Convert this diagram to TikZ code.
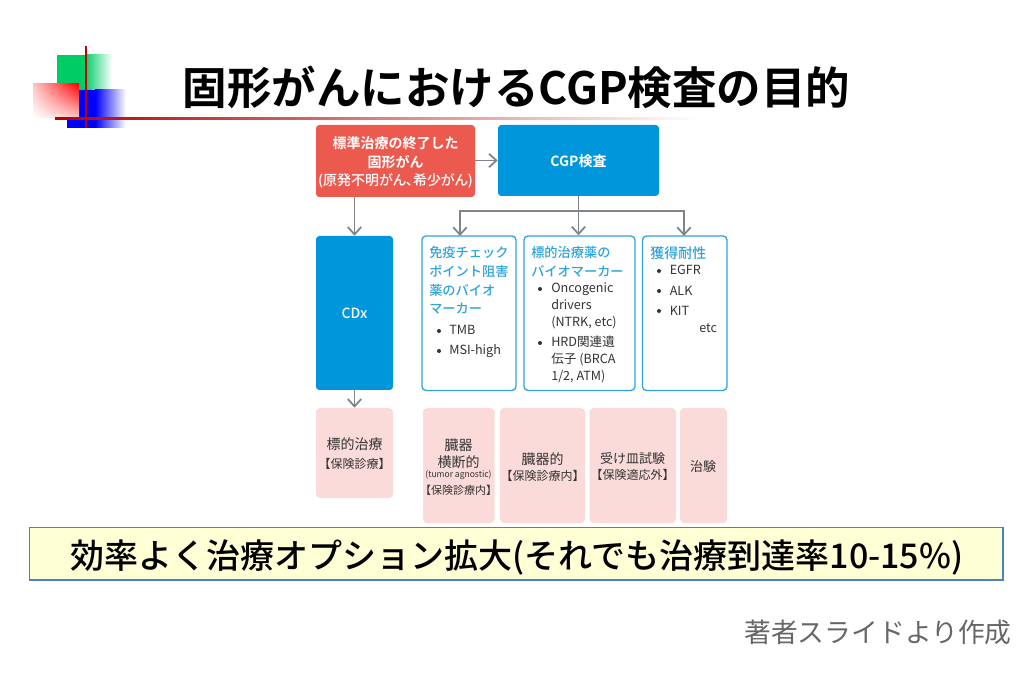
\documentclass[tikz,border=0pt]{standalone}
\usepackage{fontspec}
\usetikzlibrary{arrows.meta,shadings}
\setmainfont{Noto Sans CJK JP}[BoldFont={Noto Sans CJK JP Bold}]
\newfontfamily\jpp{Noto Sans CJK JP}[RawFeature=+palt,BoldFont={Noto Sans CJK JP Bold}]
\newfontfamily\jpm{Noto Sans CJK JP Medium}
\newfontfamily\jppm{Noto Sans CJK JP Medium}[RawFeature=+palt]
\definecolor{cblue}{HTML}{0096DC}
\definecolor{cline}{HTML}{2EA3DC}
\definecolor{cred}{HTML}{EC5A4F}
\definecolor{cpink}{HTML}{FADBD9}
\definecolor{cgray}{HTML}{7F858A}
\definecolor{ctext}{HTML}{333333}
\definecolor{cyel}{HTML}{FFFFD6}
\definecolor{cbord}{HTML}{4F81BD}
\definecolor{cgreen}{HTML}{00CC66}
\newcommand{\px}[1]{\fontsize{\dimexpr#1pt*3/4\relax}{\dimexpr#1pt*3/4\relax}\selectfont}
\tikzset{
  x=0.75pt,y=-0.75pt,
  solidbox/.style={rounded corners=2.5pt,inner sep=0,fill=cblue,text=white,font=\px{14}\bfseries},
  redbox/.style={rounded corners=2.5pt,inner sep=0,fill=cred},
  outbox/.style={rounded corners=3pt,inner sep=0,draw=cline,line width=1pt,fill=white},
  pinkbox/.style={rounded corners=3pt,inner sep=0,fill=cpink},
  conn/.style={draw=cgray,line width=1.35pt},
  arr/.style={conn,-{Straight Barb[length=5.5pt,width=10pt,line width=1.35pt]}},
  head/.style={anchor=west,inner sep=0,text=cline,font=\px{13.2}\jpm},
  body/.style={anchor=west,inner sep=0,text=ctext,font=\px{12.6},text height=6.7pt,text depth=0pt},
  wtxt/.style={inner sep=0,text=white,font=\px{14}\bfseries},
  ptxt/.style={inner sep=0,text=ctext,font=\px{14}},
  psub/.style={inner sep=0,text=ctext,font=\px{12}},
  bul/.style={circle,fill=ctext,inner sep=0,minimum size=3pt},
}
\newcommand{\boxat}[6]{\node[#1,minimum width=#4*0.75pt-#2*0.75pt,minimum height=#5*0.75pt-#3*0.75pt] (#6) at ({(#2+#4)/2},{(#3+#5)/2}) {};}
\begin{document}
\begin{tikzpicture}
\useasboundingbox (0,0) rectangle (1029,684);
% logo
\fill[cgreen] (57,55) rectangle (85,90);
\shade[left color=cgreen,right color=white] (85,55) rectangle (112,90);
\fill[blue] (67,90) rectangle (95,128);
\shade[left color=blue,right color=white] (95,90) rectangle (126,128);
\shade[lower left=white,upper right=red,upper left=red!22,lower right=red!22] (33,84) rectangle (79,118);
\fill[red!75!black] (85,46) rectangle (87,128);
\shade[left color=red!70!black,right color=white] (55,118) rectangle (700,120);
% title
\node[inner sep=0,font=\px{44.5}\bfseries,text=black] (title) at (516.5,87) {固形がんにおけるCGP検査の目的};
% top boxes
\boxat{redbox}{316}{125}{475}{197}{start}
\boxat{solidbox}{498}{125}{659}{196}{cgp}
\node[wtxt] (cgpt) at (578.5,161) {CGP検査};
\node[wtxt] (st1) at (395.5,143) {標準治療の終了した};
\node[wtxt] (st2) at (395.5,162) {固形がん};
\node[wtxt,font=\px{14}\jppm] (st3) at (395.5,181) {(原発不明がん、希少がん)};
% CDx
\boxat{solidbox}{316}{236}{393}{390}{cdx}
\node[wtxt,font=\px{14}\jpm] (cdxt) at (354.5,313) {CDx};
% outlined boxes
\boxat{outbox}{422}{236}{516}{390.5}{b1}
\boxat{outbox}{524}{236}{635}{390.5}{b2}
\boxat{outbox}{642.5}{236}{727}{390.5}{b3}
% b1 text
\node[head] (h11) at (429,252) {免疫チェック};
\node[head] (h12) at (429,271) {ポイント阻害};
\node[head] (h13) at (429,290) {薬のバイオ};
\node[head] (h14) at (429,309) {マーカー};
\node[bul] (p11) at (439,331) {};
\node[body] (t11) at (449,330.5) {TMB};
\node[bul] (p12) at (439,351) {};
\node[body] (t12) at (449,350.5) {MSI-high};
% b2 text
\node[head] (h21) at (531,252) {標的治療薬の};
\node[head] (h22) at (531,271) {バイオマーカー};
\node[bul] (p21) at (540,289) {};
\node[body] (t21) at (551,288) {Oncogenic};
\node[body] (t22) at (551,305) {drivers};
\node[body] (t23) at (551,322) {(NTRK, etc)};
\node[bul] (p22) at (540,343) {};
\node[body] (t24) at (551,342) {HRD関連遺};
\node[body] (t25) at (551,359) {伝子 (BRCA};
\node[body] (t26) at (551,376) {1/2, ATM)};
% b3 text
\node[head,font=\px{14}\jpm] (h31) at (650,253) {獲得耐性};
\node[bul] (p31) at (659,271) {};
\node[body] (t31) at (669.5,270) {EGFR};
\node[bul] (p32) at (659,291) {};
\node[body] (t32) at (669.5,291) {ALK};
\node[bul] (p33) at (659,311) {};
\node[body] (t33) at (669.5,311) {KIT};
\node[body] (t34) at (699,328) {etc};
% pink boxes
\boxat{pinkbox}{316}{408}{393}{498}{p1}
\boxat{pinkbox}{423}{408}{494.5}{523}{p2}
\boxat{pinkbox}{500}{408}{585}{523}{p3}
\boxat{pinkbox}{589.5}{408}{676}{523}{p4}
\boxat{pinkbox}{680}{408}{727}{523}{p5}
\node[ptxt] (q11) at (354.5,444) {標的治療};
\node[psub] (q12) at (354.5,464) {【保険診療】};
\node[ptxt] (q21) at (458.5,445) {臓器};
\node[ptxt] (q22) at (458.5,462) {横断的};
\node[inner sep=0,text=ctext,font=\px{8.8},xscale=0.97] (q23) at (458.5,475) {(tumor agnostic)};
\node[psub,font=\px{11}] (q24) at (458.5,490) {【保険診療内】};
\node[ptxt] (q31) at (542.5,459) {臓器的};
\node[psub] (q32) at (542.5,476) {【保険診療内】};
\node[ptxt,font=\px{13}] (q41) at (632.5,459) {受け皿試験};
\node[psub] (q42) at (632.5,475) {【保険適応外】};
\node[ptxt,font=\px{13}] (q51) at (703,467) {治験};
% connectors
\draw[arr] (start.east |- cgp.west) -- (cgp.west);
\draw[arr] (start.south -| cdx.north) -- (cdx.north);
\draw[arr] (cdx.south) -- (p1.north);
\coordinate (fork) at (578.5,211);
\draw[arr] (cgp.south) -- (b2.north -| cgp.south);
\draw[arr] (fork) -| (460,236);
\draw[arr] (fork) -| (684,236);
% banner
\boxat{draw=cbord,line width=1.3pt,fill=cyel,inner sep=0}{29.5}{527.5}{1003}{580}{banner}
\node[inner sep=0,text=black,font=\px{34}\jpm] (bt) at (517,558) {効率よく治療オプション拡大(それでも治療到達率10-15\%)};
% credit
\node[inner sep=0,text=black!60,font=\px{26.8}] (credit) at (878,632) {著者スライドより作成};
\end{tikzpicture}
\end{document}
